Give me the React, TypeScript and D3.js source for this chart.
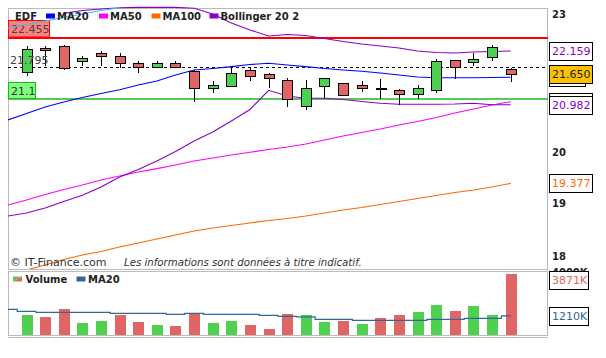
import { useEffect, useRef } from 'react';
import * as d3 from 'd3';

// candles (one per session)
const opens = [21.7, 22.23, 22.27, 21.94, 22.12, 22.05, 21.88, 21.81, 21.88, 21.71, 21.34, 21.39, 21.74, 21.65, 21.52, 20.96, 21.39, 21.45, 21.4, 21.32, 21.3, 21.21, 21.29, 21.96, 21.91, 22.02, 21.75];
const highs = [22.27, 22.27, 22.29, 22.05, 22.16, 22.12, 21.94, 21.93, 21.93, 21.74, 21.5, 21.81, 21.81, 21.66, 21.55, 21.52, 21.55, 21.45, 21.5, 21.53, 21.32, 21.41, 21.97, 21.96, 22.11, 22.29, 21.77];
const lows = [21.6, 21.83, 21.74, 21.83, 21.83, 21.77, 21.66, 21.77, 21.77, 21.05, 21.23, 21.39, 21.5, 21.34, 20.94, 20.87, 21.12, 21.19, 21.26, 21.1, 20.98, 21.1, 21.23, 21.53, 21.83, 21.94, 21.48];
const closes = [22.2, 22.17, 21.77, 21.995, 22.05, 21.88, 21.8, 21.88, 21.81, 21.35, 21.41, 21.66, 21.61, 21.55, 21.1, 21.34, 21.55, 21.19, 21.35, 21.32, 21.21, 21.34, 21.94, 21.8, 21.97, 22.24, 21.65];
const prevClose = 21.68;
const volumes = [1270, 1143, 1651, 762, 889, 1270, 825, 635, 571, 1333, 762, 889, 635, 381, 1333, 1270, 825, 889, 698, 1079, 1270, 1460, 1905, 1524, 1841, 1270, 3871];

// indicators, starting one session before the first candle
const ma20 = [20.662, 20.799, 20.936, 21.042, 21.138, 21.224, 21.306, 21.408, 21.495, 21.626, 21.736, 21.769, 21.809, 21.857, 21.884, 21.846, 21.809, 21.769, 21.736, 21.707, 21.67, 21.626, 21.582, 21.567, 21.567, 21.567, 21.571, 21.576];
const ma50 = [18.957, 19.053, 19.16, 19.257, 19.345, 19.443, 19.522, 19.602, 19.669, 19.741, 19.821, 19.882, 19.942, 19.997, 20.054, 20.104, 20.166, 20.248, 20.33, 20.402, 20.475, 20.558, 20.631, 20.714, 20.809, 20.894, 20.978, 21.049];
const ma100 = [17.659, 17.749, 17.839, 17.939, 18.021, 18.085, 18.167, 18.241, 18.315, 18.39, 18.464, 18.521, 18.568, 18.615, 18.662, 18.7, 18.747, 18.804, 18.861, 18.909, 18.967, 19.024, 19.082, 19.14, 19.198, 19.247, 19.306, 19.377];
const bollUpper = [null, null, null, 23.02, 23.086, 23.122, 23.15, 23.16, 23.16, 23.16, 23.14, 23.005, 22.796, 22.635, 22.497, 22.532, 22.509, 22.441, 22.372, 22.316, 22.271, 22.226, 22.158, 22.125, 22.114, 22.136, 22.147, 22.159];
const bollUpperCyan = [22.681, 22.761, 22.842, 22.923, 23.005, 23.086, 23.15, null, null, null, null, null, null, null, null, null, null, null, null, null, null, null, null, null, null, null, null, null];
const bollLower = [18.747, 18.804, 18.9, 19.024, 19.144, 19.306, 19.503, 19.652, 19.821, 20.013, 20.227, 20.412, 20.641, 20.883, 21.293, 21.171, 21.121, 21.121, 21.096, 21.053, 21.015, 20.993, 20.993, 20.993, 20.999, 21.015, 20.982, 20.982];
const volMa20 = [1632, 1505, 1441, 1441, 1441, 1441, 1378, 1378, 1378, 1314, 1378, 1314, 1314, 1314, 1251, 1187, 1156, 997, 997, 933, 933, 933, 933, 997, 997, 1060, 1060, 1210];

const priceTicks = [23, 20, 19, 18];
const volumeTicks = [4000];
const levelHigh = 22.455;
const levelPivot = 21.795;
const levelLow = 21.1;

const FONT = "'DejaVu Sans', Verdana, sans-serif";
const GREEN = '#50d050';
const RED = '#e06666';

export default function App() {
  const svgRef = useRef<SVGSVGElement>(null);

  useEffect(() => {
    if (!svgRef.current) return;
    const svg = d3.select(svgRef.current);
    svg.selectAll('*').remove();

    const left = 8;
    const right = 548;
    const x = d3.scaleLinear().domain([0, 26]).range([26.5, 510.7]);
    const y = d3.scaleLog().domain([18, 23]).range([256.1, 14.2]);
    const yVol = d3.scaleLinear().domain([0, 4000]).range([335, 272]);
    const px = (i: number) => Math.round(x(i));

    svg.append('rect').attr('width', 606).attr('height', 358).attr('fill', '#fff');

    // panels
    svg.append('rect').attr('x', 8.5).attr('y', 8.5).attr('width', 539).attr('height', 261)
      .attr('fill', 'none').attr('stroke', '#bbb');
    svg.append('rect').attr('x', 8.5).attr('y', 271.5).attr('width', 539).attr('height', 64)
      .attr('fill', 'none').attr('stroke', '#bbb');
    svg.append('line').attr('x1', 8).attr('x2', 548).attr('y1', 337.5).attr('y2', 337.5).attr('stroke', '#bbb');

    const defs = svg.append('defs');
    defs.append('clipPath').attr('id', 'mainClip').append('rect')
      .attr('x', left).attr('y', 6).attr('width', right - left).attr('height', 263);

    // horizontal levels
    const yh = Math.round(y(levelHigh));
    svg.append('line').attr('x1', left).attr('x2', right).attr('y1', yh).attr('y2', yh)
      .attr('stroke', '#ff0000').attr('stroke-width', 2);
    const yp = Math.round(y(levelPivot)) + 0.5;
    svg.append('line').attr('x1', left).attr('x2', right).attr('y1', yp).attr('y2', yp)
      .attr('stroke', '#000').attr('stroke-dasharray', '3,3');
    const yl = Math.round(y(levelLow));
    svg.append('line').attr('x1', left).attr('x2', right).attr('y1', yl).attr('y2', yl)
      .attr('stroke', '#1db81d').attr('stroke-width', 1.6);

    // left level boxes
    svg.append('rect').attr('x', 8.5).attr('y', yh - 17.5).attr('width', 41).attr('height', 16.5)
      .attr('fill', '#ff8080').attr('stroke', '#ff0000');
    svg.append('text').attr('x', 11).attr('y', yh - 9).attr('dominant-baseline', 'central')
      .attr('font-family', FONT).attr('font-size', 11).attr('fill', '#444').text(levelHigh.toFixed(3));
    svg.append('rect').attr('x', 8.5).attr('y', yl - 16.5).attr('width', 27).attr('height', 16)
      .attr('fill', '#80ff80').attr('stroke', '#1db81d');
    svg.append('text').attr('x', 11).attr('y', yl - 8).attr('dominant-baseline', 'central')
      .attr('font-family', FONT).attr('font-size', 11).attr('fill', '#333').text(String(levelLow));

    // indicator lines
    const idx = (k: number) => k - 1;
    const lineGen = d3.line<number | null>()
      .defined((d) => d !== null)
      .x((_, k) => x(idx(k)))
      .y((d) => y(d as number));
    const lines = svg.append('g').attr('clip-path', 'url(#mainClip)');
    const series: [(number | null)[], string][] = [
      [ma100, '#ff6600'],
      [ma50, '#ff00ff'],
      [bollLower, '#8800cc'],
      [bollUpper, '#8800cc'],
      [bollUpperCyan, '#22ccee'],
      [ma20, '#0000ff'],
    ];
    series.forEach(([vals, color]) => {
      lines.append('path').datum(vals).attr('d', lineGen).attr('fill', 'none')
        .attr('stroke', color).attr('stroke-width', 1.1);
    });

    // candles
    const candles = svg.append('g').attr('shape-rendering', 'crispEdges');
    opens.forEach((o, i) => {
      const c = closes[i];
      const cx = px(i);
      candles.append('line').attr('x1', cx + 0.5).attr('x2', cx + 0.5)
        .attr('y1', Math.round(y(highs[i]))).attr('y2', Math.round(y(lows[i])))
        .attr('stroke', '#000');
      if (o === c) {
        candles.append('rect').attr('x', cx - 4.5).attr('y', Math.round(y(o)) - 1)
          .attr('width', 11).attr('height', 2).attr('fill', '#000');
        return;
      }
      const top = Math.round(y(Math.max(o, c))) + 0.5;
      const bottom = Math.round(y(Math.min(o, c))) + 0.5;
      candles.append('rect').attr('x', cx - 4.5).attr('y', top)
        .attr('width', 10).attr('height', Math.max(bottom - top, 1))
        .attr('fill', c > o ? GREEN : RED).attr('stroke', '#000');
    });

    svg.append('text').attr('x', 10).attr('y', yp - 7).attr('dominant-baseline', 'central')
      .attr('font-family', FONT).attr('font-size', 11).attr('fill', '#444').text(levelPivot.toFixed(3));

    // legend
    const legend = svg.append('g').attr('font-family', FONT).attr('font-size', 10)
      .attr('font-weight', 'bold').attr('fill', '#222');
    legend.append('text').attr('x', 15).attr('y', 16.5).attr('dominant-baseline', 'central').text('EDF');
    const items: [string, string, number][] = [
      ['MA20', '#0000ff', 46],
      ['MA50', '#ff00ff', 99],
      ['MA100', '#ff6600', 151.5],
      ['Bollinger 20 2', '#8800cc', 209.5],
    ];
    items.forEach(([label, color, lx]) => {
      legend.append('rect').attr('x', lx).attr('y', 13.5).attr('width', 9).attr('height', 5).attr('fill', color);
      legend.append('text').attr('x', lx + 11).attr('y', 16.5).attr('dominant-baseline', 'central').text(label);
    });

    // footer
    svg.append('text').attr('x', 10).attr('y', 262).attr('dominant-baseline', 'central')
      .attr('font-family', FONT).attr('font-size', 11).attr('fill', '#333').text('© IT-Finance.com');
    svg.append('text').attr('x', 124).attr('y', 262).attr('dominant-baseline', 'central')
      .attr('font-family', FONT).attr('font-size', 10.2).attr('font-style', 'italic').attr('fill', '#333')
      .text('Les informations sont données à titre indicatif.');

    // right axis
    const axisG = svg.append('g').attr('font-family', FONT).attr('font-size', 10)
      .attr('font-weight', 'bold').attr('fill', '#222');
    priceTicks.forEach((t) => {
      axisG.append('text').attr('x', 552).attr('y', y(t) + 0.5).attr('dominant-baseline', 'central').text(String(t));
    });
    volumeTicks.forEach((t) => {
      axisG.append('text').attr('x', 552).attr('y', yVol(t)).attr('dominant-baseline', 'central').text(`${t}K`);
    });

    const box = (yc: number, label: string | null, color: string, fill: string, w: number, minTop = 0) => {
      const top = Math.max(Math.round(yc - 9), minTop);
      svg.append('rect').attr('x', 549.5).attr('y', top + 0.5).attr('width', w).attr('height', 18)
        .attr('fill', fill).attr('stroke', '#000');
      if (label === null) return;
      svg.append('text').attr('x', 552).attr('y', top + 9.5).attr('dominant-baseline', 'central')
        .attr('font-family', FONT).attr('font-size', 11).attr('fill', color).text(label);
    };
    const last = (a: (number | null)[]) => a[a.length - 1] as number;
    // MA20 / MA50 value boxes sit behind the close and lower-band boxes
    box(y(last(ma20)), null, '#0000ff', '#fff', 36);
    box(y(last(ma50)), null, '#ff00ff', '#fff', 43);
    box(y(last(bollUpper)), last(bollUpper).toFixed(3), '#8800cc', '#fff', 43);
    box(y(closes[closes.length - 1]), closes[closes.length - 1].toFixed(3), '#222', '#ffc000', 43);
    box(y(last(bollLower)), last(bollLower).toFixed(3), '#8800cc', '#fff', 43);
    box(y(last(ma100)), last(ma100).toFixed(3), '#ff6600', '#fff', 43);

    // volume panel
    const volG = svg.append('g').attr('shape-rendering', 'crispEdges');
    volumes.forEach((v, i) => {
      const pc = i === 0 ? prevClose : closes[i - 1];
      volG.append('rect').attr('x', px(i) - 5).attr('y', yVol(v)).attr('width', 11)
        .attr('height', yVol(0) - yVol(v)).attr('fill', closes[i] >= pc ? GREEN : RED);
    });
    const volLine = d3.line<number>().x((_, k) => x(idx(k))).y((d) => yVol(d)).curve(d3.curveStep);
    svg.append('path').datum(volMa20).attr('d', volLine).attr('fill', 'none')
      .attr('stroke', '#336699').attr('stroke-width', 1.2);

    const volLegend = svg.append('g').attr('font-family', FONT).attr('font-size', 10)
      .attr('font-weight', 'bold').attr('fill', '#222');
    volLegend.append('path').attr('d', 'M13,276.5 L22,276.5 L13,281.5 Z').attr('fill', GREEN);
    volLegend.append('path').attr('d', 'M22,276.5 L22,281.5 L13,281.5 Z').attr('fill', RED);
    volLegend.append('text').attr('x', 25.5).attr('y', 279.3).attr('dominant-baseline', 'central').text('Volume');
    volLegend.append('rect').attr('x', 76.5).attr('y', 276.5).attr('width', 9).attr('height', 5).attr('fill', '#336699');
    volLegend.append('text').attr('x', 88).attr('y', 279.3).attr('dominant-baseline', 'central').text('MA20');

    box(yVol(volumes[volumes.length - 1]), `${volumes[volumes.length - 1]}K`, RED, '#fff', 39, 271);
    box(yVol(last(volMa20)), `${last(volMa20)}K`, '#336699', '#fff', 39);
  }, []);

  return (
    <svg
      ref={svgRef}
      width={606}
      height={358}
      style={{ position: 'absolute', left: 0, top: 0, display: 'block' }}
    />
  );
}
